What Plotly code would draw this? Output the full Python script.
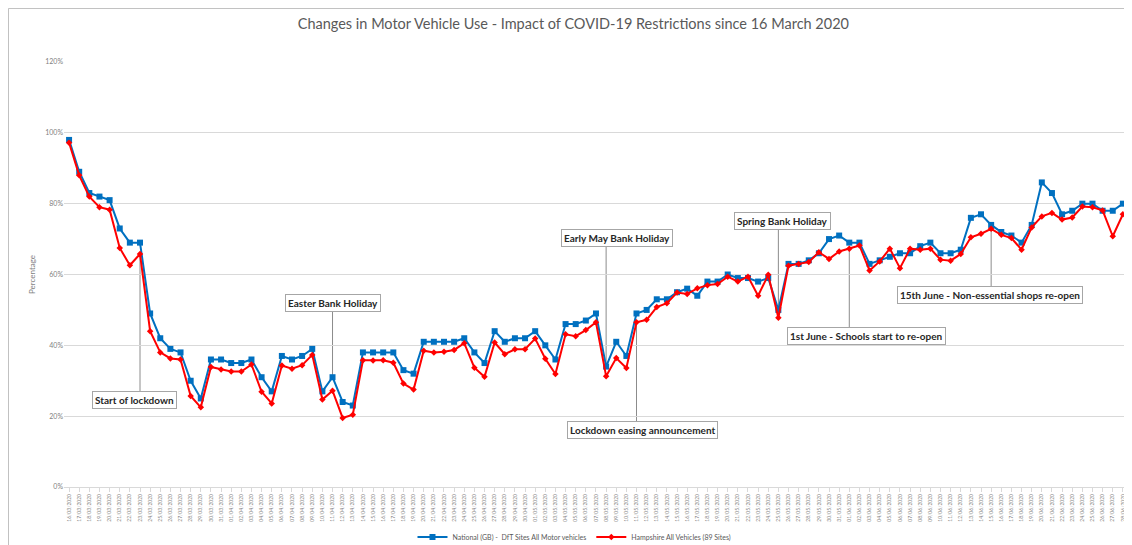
import pandas as pd
import plotly.graph_objects as go

# ---- data ----
dates = [d.strftime("%d/%m/%Y") for d in pd.date_range("2020-03-16", "2020-06-29", freq="D")]

national = [98, 89, 83, 82, 81, 73, 69, 69, 49, 42, 39, 38, 30, 25, 36, 36, 35, 35, 36, 31,
            27, 37, 36, 37, 39, 27, 31, 24, 23, 38, 38, 38, 38, 33, 32, 41, 41, 41, 41, 42,
            38, 35, 44, 41, 42, 42, 44, 40, 36, 46, 46, 47, 49, 34, 41, 37, 49, 50, 53, 53,
            55, 56, 54, 58, 58, 60, 59, 59, 58, 59, 50, 63, 63, 64, 66, 70, 71, 69, 69, 63,
            64, 65, 66, 66, 68, 69, 66, 66, 67, 76, 77, 74, 72, 71, 69, 74, 86, 83, 77, 78,
            80, 80, 78, 78, 80, 77]

hampshire = [97.2, 88, 82, 79, 78.3, 67.5, 62.6, 65.8, 44, 38, 36.3, 36, 25.7, 22.5, 33.9, 33.2,
             32.6, 32.6, 34.6, 26.9, 23.6, 34.3, 33.4, 34.4, 37.3, 24.7, 27.2, 19.5, 20.4, 35.8,
             35.7, 35.8, 35.1, 29.2, 27.5, 38.5, 38, 38.2, 38.7, 40.6, 33.7, 31.1, 40.8, 37.5,
             38.9, 38.9, 41.9, 36.2, 31.9, 43.1, 42.6, 44.3, 46.5, 31.3, 36.4, 33.6, 46.5, 47.2,
             50.8, 51.9, 54.9, 54.5, 56.1, 57, 57.3, 59.4, 58, 59.4, 54, 59.9, 47.8, 62.5, 63,
             63.5, 66.3, 64.4, 66.5, 67.3, 68.2, 61.1, 63.7, 67.3, 61.8, 67.3, 67, 67.3, 64.2,
             63.9, 65.8, 70.5, 71.5, 72.9, 71.2, 70.3, 67, 73.3, 76.4, 77.4, 75.5, 76.1, 79.2,
             79, 78.1, 70.8, 77, 75]

y_ticks = [0, 20, 40, 60, 80, 100, 120]
y_tick_labels = ["0%", "20%", "40%", "60%", "80%", "100%", "120%"]

# events: (label, index of date, series used, box centre x (index), box centre y (%), box edge y (%))
events = [
    ("Start of lockdown", 7, "h", 6.5, 24.5, 26.4),
    ("Easter Bank Holiday", 26, "n", 26.0, 51.9, 49.9),
    ("Early May Bank Holiday", 53, "n", 54.1, 70.3, 68.3),
    ("Lockdown easing announcement", 56, "h", 56.6, 16.2, 18.2),
    ("Spring Bank Holiday", 70, "n", 70.4, 75.1, 73.1),
    ("1st June - Schools start to re-open", 77, "h", 78.7, 42.6, 44.5),
    ("15th June - Non-essential shops re-open", 91, "h", 90.9, 54.2, 56.1),
]

FONT = "Lato"
BLUE = "#0070C0"
RED = "#FF0000"

fig = go.Figure()
fig.add_trace(go.Scatter(
    x=dates, y=national, mode="lines+markers",
    name="National (GB) -  DfT Sites All Motor vehicles",
    line=dict(color=BLUE, width=2),
    marker=dict(symbol="square", size=6, color=BLUE),
))
fig.add_trace(go.Scatter(
    x=dates, y=hampshire, mode="lines+markers",
    name="Hampshire All Vehicles (89 Sites)",
    line=dict(color=RED, width=2),
    marker=dict(symbol="diamond", size=5, color=RED),
))

shapes = []
annotations = []
for label, idx, ser, bx, by, edge in events:
    yv = national[idx] if ser == "n" else hampshire[idx]
    shapes.append(dict(type="line", xref="x", yref="y", x0=idx, x1=idx, y0=yv, y1=edge,
                       line=dict(color="#8c8c8c", width=1), layer="below"))
    annotations.append(dict(x=bx, y=by, xref="x", yref="y", text="<b>" + label + "</b>",
                            showarrow=False, font=dict(family=FONT, size=10, color="#262626"),
                            bgcolor="white", bordercolor="#a6a6a6", borderwidth=1, borderpad=2))

# outer chart frame
shapes.append(dict(type="rect", xref="paper", yref="paper", x0=-0.052, x1=1.02, y0=-0.2, y1=1.126,
                   line=dict(color="#bfbfbf", width=1), fillcolor="rgba(0,0,0,0)", layer="below"))

fig.update_layout(
    width=1124, height=537,
    margin=dict(l=56, r=0, t=54, b=58),
    paper_bgcolor="white", plot_bgcolor="white",
    font=dict(family=FONT, color="#595959"),
    title=dict(text="Changes in Motor Vehicle Use - Impact of COVID-19 Restrictions since 16 March 2020",
               x=0.503, xref="container", y=0.97, yref="container", xanchor="center", yanchor="middle",
               font=dict(family=FONT, size=14.5, color="#595959")),
    showlegend=True,
    legend=dict(orientation="h", x=0.504, xref="container", y=0.015, yref="container",
                xanchor="center", yanchor="middle", font=dict(family=FONT, size=7, color="#595959"),
                itemwidth=30, tracegroupgap=0),
    shapes=shapes,
    annotations=annotations,
)
fig.update_xaxes(type="category", range=[-0.5, 104.9], tickmode="array", tickvals=dates, ticktext=dates,
                 tickangle=-90, tickfont=dict(size=5, color="#7f7f7f"), showgrid=False, automargin=False,
                 showline=True, linecolor="#d9d9d9", ticks="outside", tickcolor="#d9d9d9", ticklen=4)
fig.update_yaxes(range=[0, 120], tickmode="array", tickvals=y_ticks, ticktext=y_tick_labels,
                 tickfont=dict(size=7, color="#7f7f7f"), automargin=False,
                 showgrid=True, gridcolor="#d9d9d9", zeroline=False,
                 title=dict(text="Percentage", font=dict(size=8, color="#7f7f7f"), standoff=8))

fig.write_html("out.html")
